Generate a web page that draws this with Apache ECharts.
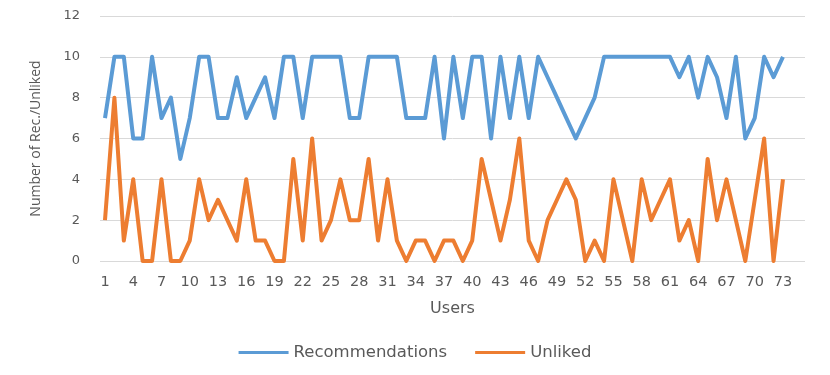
<!DOCTYPE html>
<html>
<head>
<meta charset="utf-8">
<script src="https://cdn.jsdelivr.net/npm/echarts@6/dist/echarts.min.js"></script>
<style>
  html, body { margin: 0; padding: 0; background: #fff; }
  #chart { width: 830px; height: 375px; }
</style>
</head>
<body>
<div id="chart"></div>
<script>
// Users 1..73 and the two counts per user
const users = Array.from({ length: 73 }, (_, i) => i + 1);

const recommendations = [
  7, 10, 10, 6, 6, 10, 7, 8, 5, 7,
  10, 10, 7, 7, 9, 7, 8, 9, 7, 10,
  10, 7, 10, 10, 10, 10, 7, 7, 10, 10,
  10, 10, 7, 7, 7, 10, 6, 10, 7, 10,
  10, 6, 10, 7, 10, 7, 10, 9, 8, 7,
  6, 7, 8, 10, 10, 10, 10, 10, 10, 10,
  10, 9, 10, 8, 10, 9, 7, 10, 6, 7,
  10, 9, 10
];

const unliked = [
  2, 8, 1, 4, 0, 0, 4, 0, 0, 1,
  4, 2, 3, 2, 1, 4, 1, 1, 0, 0,
  5, 1, 6, 1, 2, 4, 2, 2, 5, 1,
  4, 1, 0, 1, 1, 0, 1, 1, 0, 1,
  5, 3, 1, 3, 6, 1, 0, 2, 3, 4,
  3, 0, 1, 0, 4, 2, 0, 4, 2, 3,
  4, 1, 2, 0, 5, 2, 4, 2, 0, 3,
  6, 0, 4
];

const xTickLabels = [1, 4, 7, 10, 13, 16, 19, 22, 25, 28, 31, 34, 37, 40, 43, 46, 49, 52, 55, 58, 61, 64, 67, 70, 73];
const yTicks = [0, 2, 4, 6, 8, 10, 12];

const textColor = '#595959';
const gridColor = '#d9d9d9';

const chart = echarts.init(document.getElementById('chart'));

chart.setOption({
  animation: false,
  grid: { left: 100, right: 25, top: 16, bottom: 114 },
  legend: {
    bottom: 9,
    left: 'center',
    icon: 'rect',
    itemWidth: 50,
    itemHeight: 3,
    itemGap: 28,
    textStyle: { color: textColor, fontSize: 16.5, fontFamily: 'DejaVu Sans' },
    data: ['Recommendations', 'Unliked']
  },
  xAxis: {
    type: 'value',
    min: 0.47,
    max: 75.34,
    name: 'Users',
    nameLocation: 'middle',
    nameGap: 40,
    nameTextStyle: { color: textColor, fontSize: 16, fontFamily: 'DejaVu Sans' },
    axisLine: { show: false },
    axisTick: { show: false },
    splitLine: { show: false },
    axisLabel: {
      customValues: xTickLabels,
      color: textColor,
      fontSize: 14.5,
      fontFamily: 'DejaVu Sans',
      margin: 14
    }
  },
  yAxis: {
    type: 'value',
    min: yTicks[0],
    max: yTicks[yTicks.length - 1],
    interval: 2,
    name: 'Number of Rec./Unliked',
    nameLocation: 'middle',
    nameGap: 57,
    nameTextStyle: { color: textColor, fontSize: 14, fontFamily: 'Open Sans' },
    axisLine: { show: false },
    axisTick: { show: false },
    splitLine: { lineStyle: { color: gridColor, width: 1 } },
    axisLabel: { color: textColor, fontSize: 13, fontFamily: 'DejaVu Sans', margin: 20 }
  },
  series: [
    {
      name: 'Recommendations',
      type: 'line',
      data: users.map((u, i) => [u, recommendations[i]]),
      symbol: 'none',
      itemStyle: { color: '#5B9BD5' },
      lineStyle: { color: '#5B9BD5', width: 4, join: 'round' }
    },
    {
      name: 'Unliked',
      type: 'line',
      data: users.map((u, i) => [u, unliked[i]]),
      symbol: 'none',
      itemStyle: { color: '#ED7D31' },
      lineStyle: { color: '#ED7D31', width: 4, join: 'round' }
    }
  ]
});
</script>
</body>
</html>
